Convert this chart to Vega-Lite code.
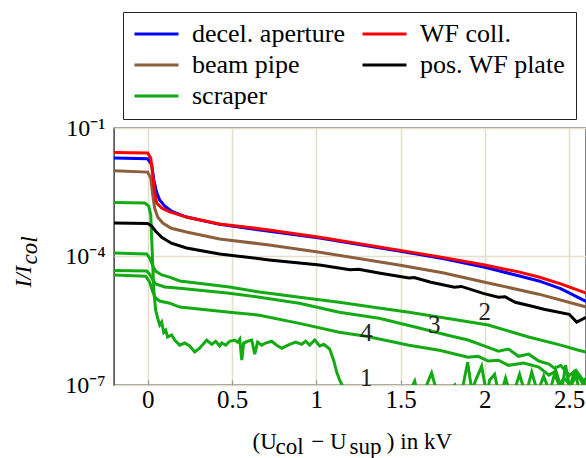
{
  "$schema": "https://vega.github.io/schema/vega-lite/v6.json",
  "width": 472,
  "height": 257,
  "autosize": "none",
  "padding": {"left": 114, "top": 128, "right": 0, "bottom": 73},
  "background": "white",
  "config": {
    "view": {"stroke": "#333", "strokeWidth": 1.4},
    "font": "Liberation Serif"
  },
  "layer": [
    {
      "data": {"values": [
        {"component":"scraper","curve":"g1","U":-0.2,"I":1.82e-3},
        {"component":"scraper","curve":"g1","U":-0.018,"I":1.78e-3},
        {"component":"scraper","curve":"g1","U":0.006,"I":1.51e-3},
        {"component":"scraper","curve":"g1","U":0.018,"I":9.33e-4},
        {"component":"scraper","curve":"g1","U":0.024,"I":2.40e-4},
        {"component":"scraper","curve":"g1","U":0.030,"I":6.31e-5},
        {"component":"scraper","curve":"g1","U":0.036,"I":1.62e-5},
        {"component":"scraper","curve":"g1","U":0.047,"I":5.62e-6},
        {"component":"scraper","curve":"g1","U":0.059,"I":3.63e-6},
        {"component":"scraper","curve":"g1","U":0.071,"I":2.51e-6},
        {"component":"scraper","curve":"g1","U":0.083,"I":2.95e-6},
        {"component":"scraper","curve":"g1","U":0.095,"I":1.70e-6},
        {"component":"scraper","curve":"g1","U":0.107,"I":1.91e-6},
        {"component":"scraper","curve":"g1","U":0.118,"I":1.32e-6},
        {"component":"scraper","curve":"g1","U":0.142,"I":1.48e-6},
        {"component":"scraper","curve":"g1","U":0.160,"I":1.12e-6},
        {"component":"scraper","curve":"g1","U":0.190,"I":8.51e-7},
        {"component":"scraper","curve":"g1","U":0.219,"I":9.55e-7},
        {"component":"scraper","curve":"g1","U":0.249,"I":8.13e-7},
        {"component":"scraper","curve":"g1","U":0.279,"I":5.89e-7},
        {"component":"scraper","curve":"g1","U":0.308,"I":7.24e-7},
        {"component":"scraper","curve":"g1","U":0.350,"I":1.12e-6},
        {"component":"scraper","curve":"g1","U":0.380,"I":8.91e-7},
        {"component":"scraper","curve":"g1","U":0.403,"I":1.05e-6},
        {"component":"scraper","curve":"g1","U":0.427,"I":8.13e-7},
        {"component":"scraper","curve":"g1","U":0.439,"I":9.55e-7},
        {"component":"scraper","curve":"g1","U":0.463,"I":8.51e-7},
        {"component":"scraper","curve":"g1","U":0.486,"I":1.05e-6},
        {"component":"scraper","curve":"g1","U":0.516,"I":1.12e-6},
        {"component":"scraper","curve":"g1","U":0.534,"I":1.00e-6},
        {"component":"scraper","curve":"g1","U":0.546,"I":1.17e-6},
        {"component":"scraper","curve":"g1","U":0.558,"I":3.80e-7},
        {"component":"scraper","curve":"g1","U":0.569,"I":9.55e-7},
        {"component":"scraper","curve":"g1","U":0.593,"I":1.05e-6},
        {"component":"scraper","curve":"g1","U":0.617,"I":1.12e-6},
        {"component":"scraper","curve":"g1","U":0.635,"I":5.25e-7},
        {"component":"scraper","curve":"g1","U":0.652,"I":1.00e-6},
        {"component":"scraper","curve":"g1","U":0.676,"I":8.51e-7},
        {"component":"scraper","curve":"g1","U":0.700,"I":9.55e-7},
        {"component":"scraper","curve":"g1","U":0.735,"I":1.05e-6},
        {"component":"scraper","curve":"g1","U":0.765,"I":8.51e-7},
        {"component":"scraper","curve":"g1","U":0.795,"I":7.24e-7},
        {"component":"scraper","curve":"g1","U":0.842,"I":8.91e-7},
        {"component":"scraper","curve":"g1","U":0.878,"I":1.00e-6},
        {"component":"scraper","curve":"g1","U":0.913,"I":8.91e-7},
        {"component":"scraper","curve":"g1","U":0.937,"I":1.05e-6},
        {"component":"scraper","curve":"g1","U":0.961,"I":8.51e-7},
        {"component":"scraper","curve":"g1","U":0.991,"I":1.12e-6},
        {"component":"scraper","curve":"g1","U":1.020,"I":8.13e-7},
        {"component":"scraper","curve":"g1","U":1.044,"I":8.91e-7},
        {"component":"scraper","curve":"g1","U":1.079,"I":6.92e-7},
        {"component":"scraper","curve":"g1","U":1.103,"I":3.80e-7},
        {"component":"scraper","curve":"g1","U":1.121,"I":2.00e-7},
        {"component":"scraper","curve":"g1","U":1.139,"I":1.29e-7},
        {"component":"scraper","curve":"g1","U":1.157,"I":9.33e-8},
        {"component":"scraper","curve":"g1","U":1.174,"I":5.75e-8},
        {"component":"scraper","curve":"g1","U":1.198,"I":3.39e-8},
        {"component":"scraper","curve":"g1","U":1.317,"I":4.0e-8},
        {"component":"scraper","curve":"g1","U":1.524,"I":4.0e-8},
        {"component":"scraper","curve":"g1","U":1.584,"I":1.23e-7},
        {"component":"scraper","curve":"g1","U":1.613,"I":4.0e-8},
        {"component":"scraper","curve":"g1","U":1.684,"I":1.91e-7},
        {"component":"scraper","curve":"g1","U":1.732,"I":4.0e-8},
        {"component":"scraper","curve":"g1","U":1.821,"I":1.00e-7},
        {"component":"scraper","curve":"g1","U":1.851,"I":4.0e-8},
        {"component":"scraper","curve":"g1","U":1.898,"I":3.39e-7},
        {"component":"scraper","curve":"g1","U":1.922,"I":7.59e-8},
        {"component":"scraper","curve":"g1","U":1.951,"I":1.45e-7},
        {"component":"scraper","curve":"g1","U":1.981,"I":2.75e-7},
        {"component":"scraper","curve":"g1","U":2.011,"I":5.75e-8},
        {"component":"scraper","curve":"g1","U":2.028,"I":1.29e-7},
        {"component":"scraper","curve":"g1","U":2.058,"I":1.78e-7},
        {"component":"scraper","curve":"g1","U":2.088,"I":4.8e-8},
        {"component":"scraper","curve":"g1","U":2.123,"I":1.45e-7},
        {"component":"scraper","curve":"g1","U":2.159,"I":4.8e-8},
        {"component":"scraper","curve":"g1","U":2.206,"I":1.78e-7},
        {"component":"scraper","curve":"g1","U":2.242,"I":5.75e-8},
        {"component":"scraper","curve":"g1","U":2.278,"I":2.00e-7},
        {"component":"scraper","curve":"g1","U":2.313,"I":6.76e-8},
        {"component":"scraper","curve":"g1","U":2.349,"I":1.62e-7},
        {"component":"scraper","curve":"g1","U":2.384,"I":6.76e-8},
        {"component":"scraper","curve":"g1","U":2.420,"I":2.24e-7},
        {"component":"scraper","curve":"g1","U":2.456,"I":7.59e-8},
        {"component":"scraper","curve":"g1","U":2.479,"I":2.88e-7},
        {"component":"scraper","curve":"g1","U":2.503,"I":8.13e-8},
        {"component":"scraper","curve":"g1","U":2.533,"I":2.24e-7},
        {"component":"scraper","curve":"g1","U":2.562,"I":6.76e-8},
        {"component":"scraper","curve":"g1","U":2.598,"I":1.45e-7},

        {"component":"scraper","curve":"g2","U":-0.2,"I":1.20e-4},
        {"component":"scraper","curve":"g2","U":-0.006,"I":1.15e-4},
        {"component":"scraper","curve":"g2","U":0.012,"I":9.12e-5},
        {"component":"scraper","curve":"g2","U":0.030,"I":6.03e-5},
        {"component":"scraper","curve":"g2","U":0.047,"I":4.57e-5},
        {"component":"scraper","curve":"g2","U":0.083,"I":3.72e-5},
        {"component":"scraper","curve":"g2","U":0.130,"I":3.31e-5},
        {"component":"scraper","curve":"g2","U":0.190,"I":2.69e-5},
        {"component":"scraper","curve":"g2","U":0.485,"I":1.95e-5},
        {"component":"scraper","curve":"g2","U":0.663,"I":1.48e-5},
        {"component":"scraper","curve":"g2","U":0.900,"I":1.12e-5},
        {"component":"scraper","curve":"g2","U":1.136,"I":8.51e-6},
        {"component":"scraper","curve":"g2","U":1.350,"I":6.46e-6},
        {"component":"scraper","curve":"g2","U":1.550,"I":5.01e-6},
        {"component":"scraper","curve":"g2","U":1.800,"I":3.47e-6},
        {"component":"scraper","curve":"g2","U":2.020,"I":2.51e-6},
        {"component":"scraper","curve":"g2","U":2.260,"I":1.32e-6},
        {"component":"scraper","curve":"g2","U":2.450,"I":8.51e-7},
        {"component":"scraper","curve":"g2","U":2.556,"I":6.46e-7},
        {"component":"scraper","curve":"g2","U":2.600,"I":5.89e-7},

        {"component":"scraper","curve":"g3","U":-0.2,"I":4.68e-5},
        {"component":"scraper","curve":"g3","U":-0.006,"I":4.57e-5},
        {"component":"scraper","curve":"g3","U":0.012,"I":3.89e-5},
        {"component":"scraper","curve":"g3","U":0.030,"I":2.82e-5},
        {"component":"scraper","curve":"g3","U":0.047,"I":2.29e-5},
        {"component":"scraper","curve":"g3","U":0.101,"I":1.95e-5},
        {"component":"scraper","curve":"g3","U":0.190,"I":1.82e-5},
        {"component":"scraper","curve":"g3","U":0.485,"I":1.38e-5},
        {"component":"scraper","curve":"g3","U":0.663,"I":1.12e-5},
        {"component":"scraper","curve":"g3","U":0.899,"I":8.13e-6},
        {"component":"scraper","curve":"g3","U":1.136,"I":5.01e-6},
        {"component":"scraper","curve":"g3","U":1.373,"I":3.63e-6},
        {"component":"scraper","curve":"g3","U":1.610,"I":2.14e-6},
        {"component":"scraper","curve":"g3","U":1.780,"I":1.45e-6},
        {"component":"scraper","curve":"g3","U":1.900,"I":1.12e-6},
        {"component":"scraper","curve":"g3","U":2.020,"I":7.59e-7},
        {"component":"scraper","curve":"g3","U":2.080,"I":6.17e-7},
        {"component":"scraper","curve":"g3","U":2.140,"I":6.92e-7},
        {"component":"scraper","curve":"g3","U":2.200,"I":4.68e-7},
        {"component":"scraper","curve":"g3","U":2.260,"I":5.25e-7},
        {"component":"scraper","curve":"g3","U":2.320,"I":3.63e-7},
        {"component":"scraper","curve":"g3","U":2.380,"I":3.09e-7},
        {"component":"scraper","curve":"g3","U":2.414,"I":2.45e-7},
        {"component":"scraper","curve":"g3","U":2.450,"I":2.88e-7},
        {"component":"scraper","curve":"g3","U":2.500,"I":1.66e-7},
        {"component":"scraper","curve":"g3","U":2.540,"I":2.19e-7},
        {"component":"scraper","curve":"g3","U":2.600,"I":1.05e-7},

        {"component":"scraper","curve":"g4","U":-0.2,"I":3.72e-5},
        {"component":"scraper","curve":"g4","U":-0.012,"I":3.47e-5},
        {"component":"scraper","curve":"g4","U":0.012,"I":2.51e-5},
        {"component":"scraper","curve":"g4","U":0.030,"I":1.48e-5},
        {"component":"scraper","curve":"g4","U":0.047,"I":1.07e-5},
        {"component":"scraper","curve":"g4","U":0.071,"I":9.12e-6},
        {"component":"scraper","curve":"g4","U":0.130,"I":8.13e-6},
        {"component":"scraper","curve":"g4","U":0.190,"I":6.61e-6},
        {"component":"scraper","curve":"g4","U":0.485,"I":5.01e-6},
        {"component":"scraper","curve":"g4","U":0.663,"I":4.27e-6},
        {"component":"scraper","curve":"g4","U":0.900,"I":2.75e-6},
        {"component":"scraper","curve":"g4","U":1.136,"I":1.70e-6},
        {"component":"scraper","curve":"g4","U":1.296,"I":1.38e-6},
        {"component":"scraper","curve":"g4","U":1.550,"I":8.51e-7},
        {"component":"scraper","curve":"g4","U":1.730,"I":6.46e-7},
        {"component":"scraper","curve":"g4","U":1.900,"I":4.47e-7},
        {"component":"scraper","curve":"g4","U":1.960,"I":4.68e-7},
        {"component":"scraper","curve":"g4","U":2.020,"I":3.63e-7},
        {"component":"scraper","curve":"g4","U":2.080,"I":3.80e-7},
        {"component":"scraper","curve":"g4","U":2.140,"I":2.88e-7},
        {"component":"scraper","curve":"g4","U":2.230,"I":3.24e-7},
        {"component":"scraper","curve":"g4","U":2.320,"I":2.63e-7},
        {"component":"scraper","curve":"g4","U":2.380,"I":1.70e-7},
        {"component":"scraper","curve":"g4","U":2.410,"I":2.00e-7},
        {"component":"scraper","curve":"g4","U":2.440,"I":1.00e-7},
        {"component":"scraper","curve":"g4","U":2.470,"I":1.45e-7},
        {"component":"scraper","curve":"g4","U":2.510,"I":9.55e-8},
        {"component":"scraper","curve":"g4","U":2.545,"I":1.78e-7},
        {"component":"scraper","curve":"g4","U":2.600,"I":8.51e-8},

        {"component":"pos. WF plate","curve":"k","U":-0.2,"I":6.03e-4},
        {"component":"pos. WF plate","curve":"k","U":0.0,"I":5.89e-4},
        {"component":"pos. WF plate","curve":"k","U":0.024,"I":5.13e-4},
        {"component":"pos. WF plate","curve":"k","U":0.047,"I":3.89e-4},
        {"component":"pos. WF plate","curve":"k","U":0.083,"I":2.82e-4},
        {"component":"pos. WF plate","curve":"k","U":0.14,"I":2.04e-4},
        {"component":"pos. WF plate","curve":"k","U":0.23,"I":1.58e-4},
        {"component":"pos. WF plate","curve":"k","U":0.426,"I":1.15e-4},
        {"component":"pos. WF plate","curve":"k","U":0.72,"I":8.32e-5},
        {"component":"pos. WF plate","curve":"k","U":1.02,"I":6.31e-5},
        {"component":"pos. WF plate","curve":"k","U":1.20,"I":4.90e-5},
        {"component":"pos. WF plate","curve":"k","U":1.25,"I":5.01e-5},
        {"component":"pos. WF plate","curve":"k","U":1.38,"I":4.07e-5},
        {"component":"pos. WF plate","curve":"k","U":1.55,"I":3.16e-5},
        {"component":"pos. WF plate","curve":"k","U":1.58,"I":3.24e-5},
        {"component":"pos. WF plate","curve":"k","U":1.68,"I":2.51e-5},
        {"component":"pos. WF plate","curve":"k","U":1.82,"I":1.91e-5},
        {"component":"pos. WF plate","curve":"k","U":1.86,"I":2.00e-5},
        {"component":"pos. WF plate","curve":"k","U":1.99,"I":1.38e-5},
        {"component":"pos. WF plate","curve":"k","U":2.08,"I":1.12e-5},
        {"component":"pos. WF plate","curve":"k","U":2.12,"I":1.15e-5},
        {"component":"pos. WF plate","curve":"k","U":2.18,"I":8.51e-6},
        {"component":"pos. WF plate","curve":"k","U":2.28,"I":6.92e-6},
        {"component":"pos. WF plate","curve":"k","U":2.35,"I":5.89e-6},
        {"component":"pos. WF plate","curve":"k","U":2.50,"I":4.47e-6},
        {"component":"pos. WF plate","curve":"k","U":2.545,"I":2.95e-6},
        {"component":"pos. WF plate","curve":"k","U":2.60,"I":3.80e-6},

        {"component":"beam pipe","curve":"b","U":-0.2,"I":1.00e-2},
        {"component":"beam pipe","curve":"b","U":0.0,"I":9.33e-3},
        {"component":"beam pipe","curve":"b","U":0.018,"I":6.76e-3},
        {"component":"beam pipe","curve":"b","U":0.030,"I":2.69e-3},
        {"component":"beam pipe","curve":"b","U":0.041,"I":1.35e-3},
        {"component":"beam pipe","curve":"b","U":0.059,"I":8.32e-4},
        {"component":"beam pipe","curve":"b","U":0.089,"I":6.03e-4},
        {"component":"beam pipe","curve":"b","U":0.14,"I":4.57e-4},
        {"component":"beam pipe","curve":"b","U":0.23,"I":3.72e-4},
        {"component":"beam pipe","curve":"b","U":0.426,"I":2.57e-4},
        {"component":"beam pipe","curve":"b","U":0.72,"I":1.86e-4},
        {"component":"beam pipe","curve":"b","U":1.02,"I":1.26e-4},
        {"component":"beam pipe","curve":"b","U":1.49,"I":6.31e-5},
        {"component":"beam pipe","curve":"b","U":1.75,"I":4.17e-5},
        {"component":"beam pipe","curve":"b","U":2.0,"I":2.51e-5},
        {"component":"beam pipe","curve":"b","U":2.32,"I":1.32e-5},
        {"component":"beam pipe","curve":"b","U":2.585,"I":6.92e-6},
        {"component":"beam pipe","curve":"b","U":2.6,"I":6.61e-6},

        {"component":"decel. aperture","curve":"a","U":-0.2,"I":2.00e-2},
        {"component":"decel. aperture","curve":"a","U":0.0,"I":1.91e-2},
        {"component":"decel. aperture","curve":"a","U":0.024,"I":1.38e-2},
        {"component":"decel. aperture","curve":"a","U":0.036,"I":6.17e-3},
        {"component":"decel. aperture","curve":"a","U":0.053,"I":3.16e-3},
        {"component":"decel. aperture","curve":"a","U":0.071,"I":2.09e-3},
        {"component":"decel. aperture","curve":"a","U":0.10,"I":1.51e-3},
        {"component":"decel. aperture","curve":"a","U":0.14,"I":1.15e-3},
        {"component":"decel. aperture","curve":"a","U":0.23,"I":8.32e-4},
        {"component":"decel. aperture","curve":"a","U":0.426,"I":5.62e-4},
        {"component":"decel. aperture","curve":"a","U":0.72,"I":3.89e-4},
        {"component":"decel. aperture","curve":"a","U":1.02,"I":2.69e-4},
        {"component":"decel. aperture","curve":"a","U":1.49,"I":1.35e-4},
        {"component":"decel. aperture","curve":"a","U":1.75,"I":8.91e-5},
        {"component":"decel. aperture","curve":"a","U":2.0,"I":5.62e-5},
        {"component":"decel. aperture","curve":"a","U":2.2,"I":3.55e-5},
        {"component":"decel. aperture","curve":"a","U":2.32,"I":2.69e-5},
        {"component":"decel. aperture","curve":"a","U":2.45,"I":1.78e-5},
        {"component":"decel. aperture","curve":"a","U":2.585,"I":9.55e-6},
        {"component":"decel. aperture","curve":"a","U":2.6,"I":8.91e-6},

        {"component":"WF coll.","curve":"r","U":-0.2,"I":2.68e-2},
        {"component":"WF coll.","curve":"r","U":0.0,"I":2.61e-2},
        {"component":"WF coll.","curve":"r","U":0.018,"I":2.00e-2},
        {"component":"WF coll.","curve":"r","U":0.030,"I":7.94e-3},
        {"component":"WF coll.","curve":"r","U":0.041,"I":3.16e-3},
        {"component":"WF coll.","curve":"r","U":0.053,"I":1.78e-3},
        {"component":"WF coll.","curve":"r","U":0.083,"I":1.35e-3},
        {"component":"WF coll.","curve":"r","U":0.13,"I":1.10e-3},
        {"component":"WF coll.","curve":"r","U":0.23,"I":8.32e-4},
        {"component":"WF coll.","curve":"r","U":0.426,"I":5.75e-4},
        {"component":"WF coll.","curve":"r","U":0.72,"I":4.17e-4},
        {"component":"WF coll.","curve":"r","U":1.02,"I":2.82e-4},
        {"component":"WF coll.","curve":"r","U":1.49,"I":1.41e-4},
        {"component":"WF coll.","curve":"r","U":1.75,"I":9.55e-5},
        {"component":"WF coll.","curve":"r","U":2.0,"I":6.31e-5},
        {"component":"WF coll.","curve":"r","U":2.2,"I":4.37e-5},
        {"component":"WF coll.","curve":"r","U":2.32,"I":3.31e-5},
        {"component":"WF coll.","curve":"r","U":2.45,"I":2.29e-5},
        {"component":"WF coll.","curve":"r","U":2.585,"I":1.48e-5},
        {"component":"WF coll.","curve":"r","U":2.6,"I":1.38e-5}
      ]},
      "mark": {"type": "line", "strokeWidth": 3, "clip": true},
      "encoding": {
        "x": {
          "field": "U", "type": "quantitative",
          "scale": {"domain": [-0.2, 2.6], "nice": false, "zero": false},
          "axis": {
            "values": [0, 0.5, 1, 1.5, 2, 2.5],
            "format": "~g",
            "title": ["(U\u2003\u2005 − U\u2003\u2002\u2005) in kV", "\u2060\u2003col\u2003\u2003sup"],
            "titleFont": "Liberation Serif", "titleFontSize": 23, "titleFontWeight": "normal", "titleColor": "black",
            "titleAlign": "left", "titleBaseline": "alphabetic", "titleX": 138, "titleY": 63,
            "titleLineHeight": 5,
            "labelFont": "Liberation Serif", "labelFontSize": 25, "labelColor": "black", "labelPadding": 7,
            "labelFlush": false, "labelOverlap": false,
            "ticks": true, "tickSize": -5, "tickColor": "#999", "tickWidth": 1.2,
            "domain": false,
            "grid": true, "gridColor": "#e4dfc8", "gridWidth": 1.6
          }
        },
        "y": {
          "field": "I", "type": "quantitative",
          "scale": {"type": "log", "domain": [1e-7, 0.1], "nice": false},
          "axis": {
            "values": [1e-7, 1e-4, 0.1],
            "labelExpr": "datum.value > 0.01 ? '10⁻¹' : (datum.value > 0.00001 ? '10⁻⁴' : '10⁻⁷')",
            "title": ["I/I", "\u2060\u2003col"],
            "titleFont": "Liberation Serif", "titleFontSize": 23, "titleFontWeight": "normal", "titleFontStyle": "italic", "titleColor": "black",
            "titleAngle": 270, "titleAlign": "left", "titleBaseline": "alphabetic", "titleX": -84, "titleY": 159,
            "titleLineHeight": 6,
            "labelFont": "Liberation Serif", "labelFontSize": 24, "labelColor": "black", "labelPadding": 9,
            "labelFlush": false, "labelOverlap": false,
            "ticks": false, "domain": false,
            "grid": true, "gridColor": "#e4dfc8", "gridWidth": 1.6
          }
        },
        "color": {
          "field": "component", "type": "nominal",
          "scale": {
            "domain": ["decel. aperture", "beam pipe", "scraper", "WF coll.", "pos. WF plate"],
            "range": ["#0000ff", "#8c5f3c", "#14aa14", "#ff0000", "#000000"]
          },
          "legend": {
            "orient": "none", "legendX": 9, "legendY": -116,
            "columns": 2, "title": null,
            "symbolType": "stroke", "symbolSize": 1936, "symbolStrokeWidth": 3,
            "labelFont": "Liberation Serif", "labelFontSize": 26, "labelColor": "black", "labelLimit": 400,
            "labelOffset": 12, "columnPadding": 15, "rowPadding": 5, "clipHeight": 24,
            "padding": 10, "strokeColor": "#222", "fillColor": "white"
          }
        },
        "detail": {"field": "curve"}
      }
    },
    {
      "data": {"values": [
        {"label": "1", "U": 1.296, "I": 1.45e-7},
        {"label": "2", "U": 2.0, "I": 5.01e-6},
        {"label": "3", "U": 1.70, "I": 2.51e-6},
        {"label": "4", "U": 1.296, "I": 1.62e-6}
      ]},
      "mark": {"type": "text", "font": "Liberation Serif", "fontSize": 25, "color": "#222", "baseline": "middle", "align": "center"},
      "encoding": {
        "x": {"field": "U", "type": "quantitative"},
        "y": {"field": "I", "type": "quantitative"},
        "text": {"field": "label"}
      }
    }
  ]
}
